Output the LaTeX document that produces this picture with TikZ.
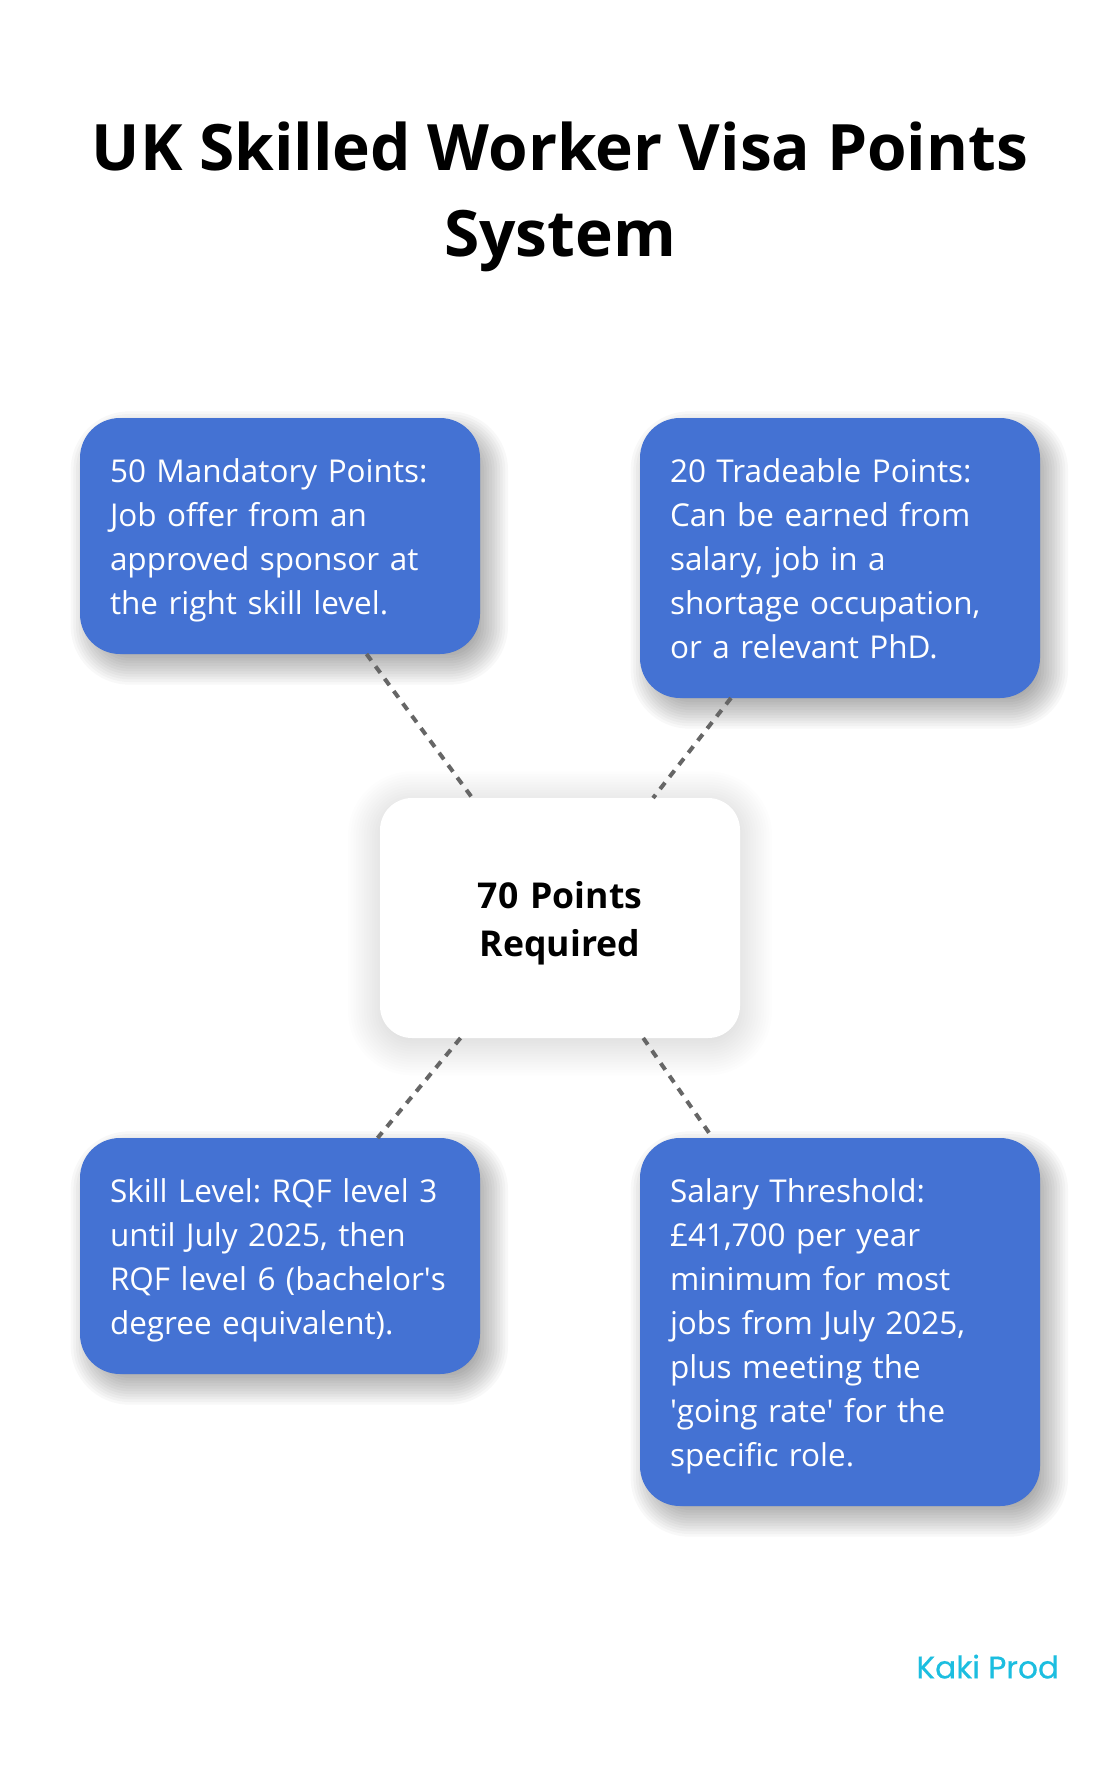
\documentclass[tikz,border=0pt]{standalone}
\usepackage{fontspec}
\setmainfont{Open Sans}
\newfontfamily\bodyfont[WordSpace=0.8]{Open Sans}
\newfontfamily\logofont[FakeBold=0.5]{Poppins}
\usetikzlibrary{calc, backgrounds}
\definecolor{boxblue}{HTML}{4472D3}
\definecolor{linegray}{HTML}{666666}
\definecolor{logocyan}{HTML}{1CBEE0}
\tikzstyle{bluebox} = [rectangle, rounded corners=30pt, minimum width=300pt, text width=255pt, inner xsep=22.5pt, inner ysep=0pt, outer sep=0pt, align=left, fill=boxblue, text=white, font=\fontsize{23.6}{33}\bodyfont\frenchspacing, execute at begin node={\rule{0pt}{29.1pt}}, execute at end node=\strut]
\tikzstyle{centerbox} = [rectangle, rounded corners=24pt, minimum width=270pt, minimum height=180pt, text width=240pt, inner sep=0pt, outer sep=0pt, align=center, fill=white, font=\fontsize{26.7}{36}\selectfont\bfseries, execute at begin node={\rule{0pt}{32pt}}, execute at end node=\strut]
\tikzstyle{link} = [linegray, line width=3pt, dash pattern=on 6pt off 5.5pt]

\begin{document}
\begin{tikzpicture}[node distance=270pt]
    \useasboundingbox (0pt,0pt) rectangle (840pt,-1324.5pt);
    \node (title) [align=center, font=\fontsize{48}{64.5}\selectfont\bfseries] at (420pt,-148pt) {UK Skilled Worker Visa Points\\System};
    \node (req) [centerbox] at (420pt,-688.5pt) {70 Points\\Required};
    \node (mand) [bluebox, minimum height=177pt, above of=req, xshift=-210pt, yshift=16.5pt] {50 Mandatory Points:\\Job offer from an\\approved sponsor at\\the right skill level.};
    \node (trade) [bluebox, minimum height=210pt, above of=req, xshift=210pt] {20 Tradeable Points:\\Can be earned from\\salary, job in a\\shortage occupation,\\or a relevant PhD.};
    \node (skill) [bluebox, minimum height=177pt, below of=req, xshift=-210pt, yshift=16.5pt] {Skill Level: RQF level 3\\until July 2025, then\\RQF level 6 (bachelor\textquotesingle s\\degree equivalent).};
    \node (salary) [bluebox, minimum height=276pt, below of=req, xshift=210pt, yshift=-33pt] {Salary Threshold:\\£41,700 per year\\minimum for most\\jobs from July 2025,\\plus meeting the\\\textquotesingle going rate\textquotesingle{} for the\\specific role.};
    \node (logo) [text=logocyan, font=\fontsize{23.4}{26}\logofont] at (740.8pt,-1250pt) {Kaki Prod};
    \draw [link] (mand) -- (req);
    \draw [link] (trade) -- (req);
    \draw [link] (req) -- (skill);
    \draw [link] (req) -- (salary);
    % soft shadows
    \begin{pgfonlayer}{background}
    \fill [white] (0pt,0pt) rectangle (840pt,-1324.5pt);
    \foreach \boxname in {mand,trade,skill,salary}
        \foreach \r in {-12,-10,...,14}
            \fill [black, opacity=0.028, rounded corners=30pt+\r pt] ($(\boxname.south west)+(7pt-\r pt,-9pt-\r pt)$) rectangle ($(\boxname.north east)+(7pt+\r pt,-9pt+\r pt)$);
    \foreach \r in {-10,-8,...,24}
        \fill [black, opacity=0.008, rounded corners=24pt+\r pt] ($(req.south west)+(-\r pt,-4pt-\r pt)$) rectangle ($(req.north east)+(\r pt,-4pt+\r pt)$);
    \end{pgfonlayer}
\end{tikzpicture}
\end{document}
